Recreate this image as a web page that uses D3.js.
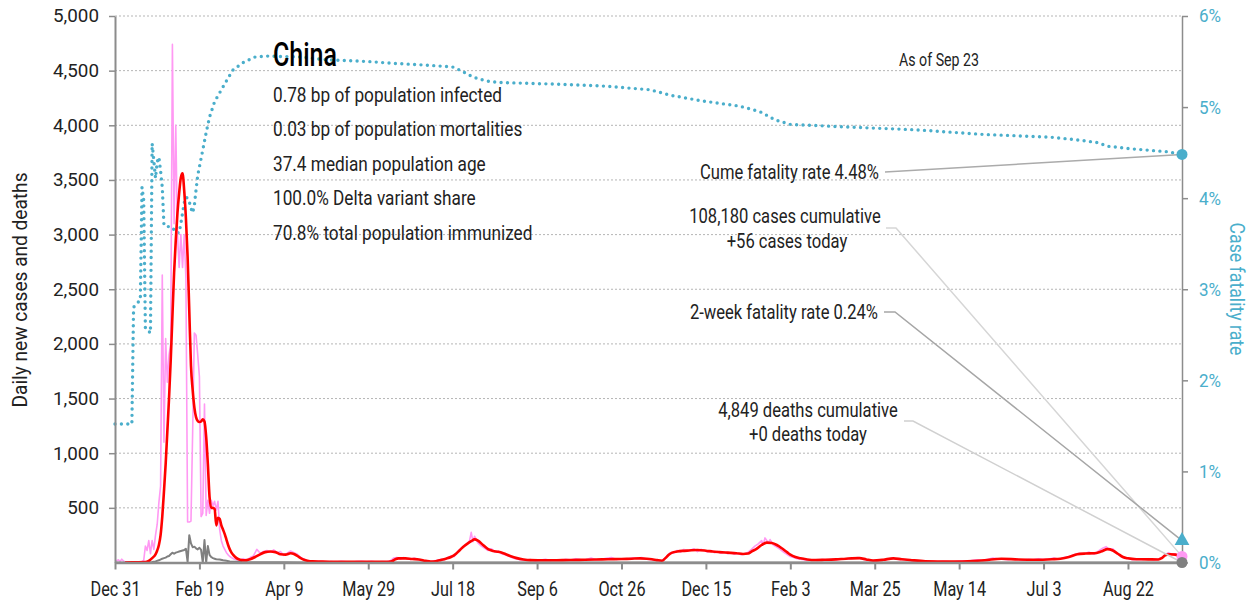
<!DOCTYPE html>
<html>
<head>
<meta charset="utf-8">
<script src="https://cdn.jsdelivr.net/npm/d3@7"></script>
<style>
  html, body { margin: 0; padding: 0; background: #ffffff; }
  svg { display: block; }
  text { font-family: Roboto, "Liberation Sans", Arial, sans-serif; }
</style>
</head>
<body>
<svg id="chart" width="1255" height="606"></svg>
<script>
// ---------------- DATA (day offsets from Dec 31, 2019) ----------------
const startDate = new Date(2019, 11, 31);
const endDay = 632; // Sep 23, 2021

const xTickDays = [0, 50, 100, 150, 200, 250, 300, 350, 400, 450, 500, 550, 600];
const xTickLabels = ["Dec 31", "Feb 19", "Apr 9", "May 29", "Jul 18", "Sep 6", "Oct 26",
                     "Dec 15", "Feb 3", "Mar 25", "May 14", "Jul 3", "Aug 22"];
const leftTicks = [500, 1000, 1500, 2000, 2500, 3000, 3500, 4000, 4500, 5000];
const rightTicks = [0, 1, 2, 3, 4, 5, 6];

// daily new cases (raw)
const casesRaw = [
  [0,20],[1,15],[2,25],[3,10],[4,30],[5,15],[6,5],[7,0],[8,0],[9,0],[10,0],[11,0],[12,5],[13,5],
  [14,5],[15,5],[16,10],[17,20],[18,150],[19,110],[20,200],[21,80],[22,200],[23,120],[24,250],
  [25,350],[26,550],[27,700],[28,2630],[29,1100],[30,2050],[31,1650],[32,1900],[33,2000],[34,4740],
  [35,3100],[36,4000],[37,3000],[38,2700],[39,3000],[40,2700],[41,3000],[42,2600],[43,370],[44,370],
  [45,380],[46,1200],[47,2100],[48,2080],[49,1900],[50,1700],[51,420],[52,450],[53,1450],[54,430],
  [55,570],[56,450],[57,570],[58,520],[59,560],[60,480],[61,560],[62,300],[63,200],[64,150],[65,120],
  [66,90],[67,70],[68,55],[69,45],[70,35],[72,25],[74,20],[76,35],[78,20],[80,45],[82,60],[84,120],
  [86,85],[88,100],[90,110],[92,95],[94,115],[96,90],[98,100],[100,65],[102,85],[104,105],[106,90],
  [108,75],[110,45],[112,30],[114,15],[116,10],[119,6],[122,12],[125,5],[128,8],[131,4],[134,10],
  [137,6],[140,3],[143,8],[146,12],[149,6],[152,10],[155,5],[158,8],[161,6],[163,15],[165,40],
  [167,45],[169,30],[171,45],[173,35],[175,28],[177,40],[179,30],[181,22],[183,15],[185,10],[187,6],
  [189,15],[191,20],[193,30],[195,25],[197,45],[199,60],[201,55],[203,100],[205,130],[207,150],
  [209,180],[210,200],[211,276],[212,190],[213,240],[215,180],[217,150],[219,130],[221,110],[223,125],
  [225,95],[227,105],[229,80],[231,70],[233,60],[235,45],[237,35],[240,25],[243,20],[246,28],[249,15],
  [252,22],[255,30],[258,18],[261,25],[264,20],[267,30],[270,22],[273,35],[276,25],[279,28],[282,40],
  [285,25],[288,30],[291,38],[294,45],[297,28],[300,35],[303,30],[306,42],[309,38],[312,45],[315,30],
  [318,25],[321,20],[323,12],[325,30],[327,60],[329,90],[331,85],[333,110],[335,95],[337,120],
  [339,105],[341,115],[343,125],[345,100],[347,120],[349,110],[351,95],[353,110],[355,90],[357,100],
  [359,85],[361,95],[363,80],[365,90],[367,75],[369,85],[371,70],[373,80],[375,95],[377,120],[379,150],
  [381,170],[383,200],[384,165],[385,225],[387,180],[388,210],[390,160],[392,140],[394,120],[396,95],
  [398,75],[400,55],[402,45],[404,35],[407,28],[410,20],[413,25],[416,18],[419,28],[422,22],[425,30],
  [428,25],[431,35],[434,30],[437,40],[440,45],[443,30],[446,22],[449,15],[452,25],[455,20],[458,30],
  [461,40],[464,28],[467,30],[470,20],[473,15],[475,18],[478,10],[481,8],[484,12],[487,6],[490,10],
  [493,8],[496,5],[499,12],[502,15],[505,10],[508,20],[511,25],[514,18],[517,30],[520,40],[523,35],
  [526,30],[529,25],[532,35],[535,28],[538,22],[541,30],[544,25],[547,35],[550,28],[553,32],[556,40],
  [559,30],[562,45],[565,55],[568,70],[571,85],[574,80],[577,95],[580,75],[583,110],[585,130],
  [587,145],[589,115],[591,125],[593,90],[595,70],[597,45],[600,35],[603,25],[606,30],[609,28],
  [612,35],[615,25],[618,30],[620,45],[622,70],[624,90],[626,75],[628,80],[630,60],[632,56]
];

// 7-day average of new cases
const casesAvg = [
  [6,0],[10,2],[18,3],[20,15],[22,40],[24,75],[25,110],[26,160],[27,250],[28,420],[29,650],[30,900],
  [31,1200],[32,1500],[33,1850],[34,2250],[35,2650],[36,2950],[37,3200],[38,3380],[39,3520],[40,3560],
  [41,3400],[42,3150],[43,2800],[44,2300],[45,1800],[46,1580],[47,1420],[48,1330],[49,1295],[50,1285],
  [51,1290],[52,1310],[53,1290],[54,1150],[55,900],[56,600],[57,500],[58,500],[59,490],[60,340],
  [61,410],[62,400],[63,340],[64,300],[65,260],[66,210],[67,160],[68,120],[69,90],[70,70],[72,40],
  [74,25],[76,20],[78,22],[80,30],[83,50],[86,75],[89,95],[92,100],[95,95],[98,75],[101,72],[104,84],
  [106,78],[108,60],[110,40],[112,25],[114,16],[117,10],[122,8],[130,6],[140,6],[150,6],[160,7],
  [164,12],[166,30],[168,38],[172,38],[176,32],[180,28],[184,15],[187,8],[190,12],[193,23],[196,35],
  [199,50],[202,80],[204,110],[206,140],[209,175],[211,195],[213,212],[215,200],[218,160],[221,122],
  [224,105],[227,98],[230,85],[234,60],[238,40],[242,28],[246,22],[255,20],[265,22],[275,24],[285,27],
  [292,30],[300,32],[306,35],[311,38],[315,35],[318,30],[321,22],[324,16],[326,40],[328,70],[330,90],
  [333,100],[336,106],[340,110],[345,114],[350,108],[354,100],[358,95],[363,90],[368,85],[372,78],
  [375,82],[377,100],[380,125],[383,160],[386,182],[389,178],[392,160],[395,130],[398,95],[400,72],
  [403,50],[406,38],[410,28],[415,23],[420,25],[427,29],[433,35],[441,40],[445,28],[449,18],[455,25],
  [461,38],[466,30],[471,23],[480,12],[495,8],[505,12],[515,20],[525,35],[535,28],[545,25],[555,30],
  [560,35],[565,50],[570,75],[575,82],[580,85],[584,100],[588,122],[591,110],[594,80],[597,50],[600,38],
  [605,30],[612,29],[618,28],[620,40],[622,65],[625,75],[628,72],[632,53]
];

// daily new deaths
const deaths = [
  [0,0],[19,0],[20,2],[22,5],[24,10],[26,20],[28,35],[29,40],[30,45],[31,55],[32,60],[33,75],[34,90],
  [35,80],[36,90],[37,95],[38,100],[39,105],[40,110],[41,115],[42,125],[43,5],[44,250],[45,175],
  [46,140],[47,145],[48,130],[49,120],[50,135],[51,115],[52,0],[53,205],[54,0],[55,150],[56,70],
  [57,50],[58,40],[59,35],[60,30],[62,28],[64,20],[66,15],[68,10],[70,8],[72,6],[75,4],[80,3],
  [100,2],[120,1],[200,1],[632,0]
];

// case fatality rate (%)
const cfr = [
  [0,1.52],[10,1.52],[11,2.80],[12,2.83],[15,2.88],[16,4.12],[17,3.98],[18,2.57],[21,2.52],[22,4.60],
  [24,4.22],[25,4.40],[26,4.45],[27,4.30],[28,4.12],[29,3.70],[31,3.69],[34,3.68],[36,3.62],[38,3.62],
  [39,3.72],[41,3.95],[42,4.01],[43,4.00],[44,3.96],[45,3.89],[46,3.84],[47,3.92],[48,4.09],[49,4.25],
  [52,4.53],[54,4.72],[56,4.89],[59,5.06],[63,5.19],[67,5.32],[70,5.41],[76,5.49],[83,5.55],[90,5.56],
  [110,5.55],[125,5.52],[150,5.50],[165,5.48],[185,5.46],[200,5.44],[205,5.40],[210,5.35],[215,5.31],
  [222,5.28],[228,5.27],[264,5.25],[290,5.23],[317,5.19],[329,5.13],[347,5.07],[370,5.01],[382,4.95],
  [391,4.86],[400,4.81],[435,4.78],[475,4.75],[514,4.70],[554,4.67],[570,4.64],[582,4.61],[588,4.57],
  [603,4.54],[623,4.51],[632,4.48]
];

const latest = { cases: 56, cfr: 4.48, cfr2wk: 0.24, deaths: 0 };

const infoTitle = "China";
const infoLines = [
  "0.78 bp of population infected",
  "0.03 bp of population mortalities",
  "37.4 median population age",
  "100.0% Delta variant share",
  "70.8% total population immunized"
];

// ---------------- CHART ----------------
const svg = d3.select("#chart");
const teal = "#4aaecb", pink = "#ff99f3", red = "#ff0000", grayD = "#808080";
const axisGray = "#8c8c8c", ink = "#222";

const M = { left: 115, right: 1182, top: 16, bottom: 562.5 };
const dayDate = d => d3.timeDay.offset(startDate, d);

const x = d3.scaleTime().domain([startDate, dayDate(endDay)]).range([M.left, M.right]);
const yL = d3.scaleLinear().domain([0, 5000]).range([M.bottom, M.top]);
const yR = d3.scaleLinear().domain([0, 6]).range([M.bottom, M.top]);

// condense a group of texts so that a reference text gets a target width (condensed face look)
function condense(sel, refNode, target) {
  const f = target / refNode.getComputedTextLength();
  sel.each(function () {
    const w = this.getComputedTextLength();
    d3.select(this).attr("textLength", w * f).attr("lengthAdjust", "spacingAndGlyphs");
  });
}

// gridlines
svg.append("g").selectAll("line").data(leftTicks).join("line")
  .attr("x1", M.left).attr("x2", M.right)
  .attr("y1", d => yL(d)).attr("y2", d => yL(d))
  .attr("stroke", "#b5b5b5").attr("stroke-width", 1).attr("stroke-dasharray", "2,2");

// CFR dotted line
const lineR = d3.line().x(d => x(dayDate(d[0]))).y(d => yR(d[1]));
svg.append("path").datum(cfr).attr("d", lineR)
  .attr("fill", "none").attr("stroke", teal).attr("stroke-width", 3.4)
  .attr("stroke-linecap", "round").attr("stroke-dasharray", "0,6.4");

const lineL = d3.line().x(d => x(dayDate(d[0]))).y(d => yL(d[1]));
svg.append("path").datum(casesRaw).attr("d", lineL)
  .attr("fill", "none").attr("stroke", pink).attr("stroke-width", 1.6).attr("stroke-linejoin", "round");
svg.append("path").datum(deaths).attr("d", lineL)
  .attr("fill", "none").attr("stroke", grayD).attr("stroke-width", 2).attr("stroke-linejoin", "round");
svg.append("path").datum(casesAvg)
  .attr("d", d3.line().x(d => x(dayDate(d[0]))).y(d => yL(d[1])).curve(d3.curveMonotoneX))
  .attr("fill", "none").attr("stroke", red).attr("stroke-width", 2.6).attr("stroke-linejoin", "round");

// axes
const gx = svg.append("g").attr("transform", `translate(0,${M.bottom})`)
  .call(d3.axisBottom(x).tickValues(xTickDays.map(dayDate))
    .tickFormat((d, i) => xTickLabels[i]).tickSize(7).tickSizeOuter(0));
gx.select(".domain").attr("stroke", axisGray).attr("stroke-width", 2.5);
gx.selectAll(".tick line").attr("stroke", axisGray).attr("stroke-width", 2);
const xt = gx.selectAll(".tick text").attr("font-family", null).attr("font-size", 20).attr("fill", ink)
  .attr("dy", null).attr("y", 33);
condense(xt, xt.nodes()[0], 50);

const gl = svg.append("g").attr("transform", `translate(${M.left},0)`)
  .call(d3.axisLeft(yL).tickValues(leftTicks).tickFormat(d3.format(",")).tickSize(6).tickSizeOuter(0));
gl.select(".domain").attr("stroke", axisGray).attr("stroke-width", 2);
gl.selectAll(".tick line").attr("stroke", axisGray).attr("stroke-width", 1.5);
const ylt = gl.selectAll(".tick text").attr("font-family", null)
  .attr("font-size", 18.5).attr("fill", ink).attr("x", -16);
condense(ylt, ylt.nodes()[ylt.nodes().length - 1], 46);

const gr = svg.append("g").attr("transform", `translate(${M.right},0)`)
  .call(d3.axisRight(yR).tickValues(rightTicks).tickFormat(d => d + "%").tickSize(6).tickSizeOuter(0));
gr.select(".domain").attr("stroke", axisGray).attr("stroke-width", 1.5);
gr.selectAll(".tick line").attr("stroke", axisGray).attr("stroke-width", 1.5);
const yrt = gr.selectAll(".tick text").attr("font-family", null).attr("font-size", 18.5)
  .attr("fill", teal).attr("x", 17);
condense(yrt, yrt.nodes()[yrt.nodes().length - 1], 22);

// axis titles
const tL = svg.append("text")
  .attr("transform", `translate(27,290) rotate(-90)`).attr("text-anchor", "middle")
  .attr("font-size", 21).attr("fill", ink).text("Daily new cases and deaths");
condense(tL, tL.node(), 235);
const tR = svg.append("text")
  .attr("transform", `translate(1230,289) rotate(90)`).attr("text-anchor", "middle")
  .attr("font-size", 21).attr("fill", teal).text("Case fatality rate");
condense(tR, tR.node(), 133);

// leader lines
const endX = x(dayDate(endDay));
const leaders = [
  { pts: [[885, 172], [endX, yR(latest.cfr)]], c: "#ababab" },
  { pts: [[886, 228], [896, 228], [endX, yL(latest.cases)]], c: "#d6d6d6" },
  { pts: [[884, 312], [895, 312], [endX, yR(latest.cfr2wk)]], c: "#a6a6a6" },
  { pts: [[904, 421], [913, 421], [endX, yL(latest.deaths)]], c: "#d0d0d0" }
];
svg.append("g").selectAll("path").data(leaders).join("path")
  .attr("d", d => d3.line()(d.pts)).attr("fill", "none")
  .attr("stroke", d => d.c).attr("stroke-width", 1.5);

// end markers
svg.append("circle").attr("cx", endX).attr("cy", yL(latest.cases)).attr("r", 5.5).attr("fill", pink);
svg.append("circle").attr("cx", endX).attr("cy", yL(latest.deaths)).attr("r", 5.5).attr("fill", grayD);
svg.append("circle").attr("cx", endX).attr("cy", yR(latest.cfr)).attr("r", 5.5).attr("fill", teal);
svg.append("path").attr("d", d3.symbol(d3.symbolTriangle).size(95)())
  .attr("transform", `translate(${endX},${yR(latest.cfr2wk)})`).attr("fill", teal);

// annotation texts
const ann = svg.append("g").attr("fill", ink).attr("font-size", 19.5);
const a1 = ann.append("text").attr("x", 879).attr("y", 179).attr("text-anchor", "end").text("Cume fatality rate 4.48%");
ann.append("text").attr("x", 785).attr("y", 223).attr("text-anchor", "middle").text("108,180 cases cumulative");
ann.append("text").attr("x", 787).attr("y", 248).attr("text-anchor", "middle").text("+56 cases today");
ann.append("text").attr("x", 878).attr("y", 319).attr("text-anchor", "end").text("2-week fatality rate 0.24%");
ann.append("text").attr("x", 808).attr("y", 417).attr("text-anchor", "middle").text("4,849 deaths cumulative");
ann.append("text").attr("x", 808).attr("y", 441).attr("text-anchor", "middle").text("+0 deaths today");
condense(ann.selectAll("text"), a1.node(), 179);
const asOf = svg.append("text").attr("x", 939).attr("y", 66).attr("text-anchor", "middle")
  .attr("font-size", 17.5).attr("fill", ink).text("As of Sep 23");
condense(asOf, asOf.node(), 80);

// info block
const ttl = svg.append("text").attr("x", 273).attr("y", 66).attr("font-size", 33).attr("font-weight", 500)
  .attr("fill", "#000").text(infoTitle);
condense(ttl, ttl.node(), 64);
const info = svg.append("g").attr("fill", ink);
const il = info.selectAll("text").data(infoLines).join("text")
  .attr("x", 273).attr("y", (d, i) => 102 + i * 34.4).attr("font-size", 21).text(d => d);
condense(il, il.nodes()[0], 229);
</script>
</body>
</html>
